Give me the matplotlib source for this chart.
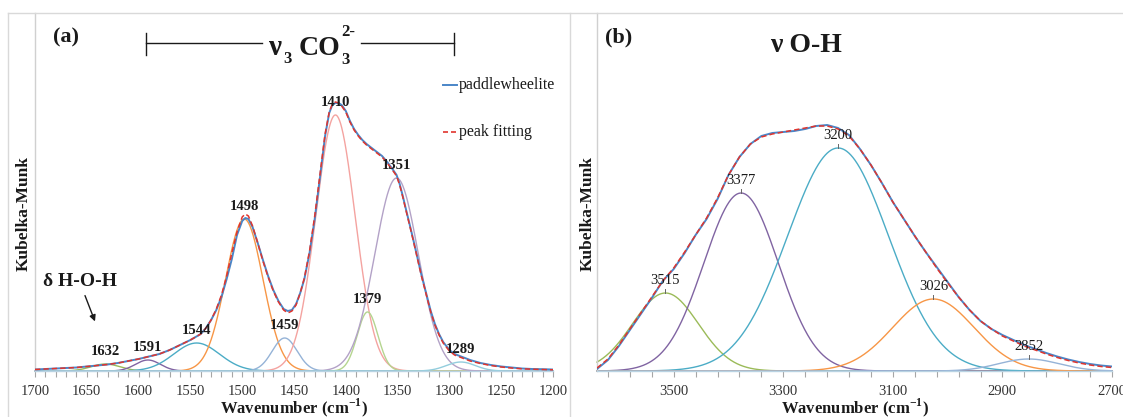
import numpy as np
import matplotlib.pyplot as plt
from matplotlib.lines import Line2D
from matplotlib.ticker import FixedLocator

plt.rcParams["font.family"] = ["Liberation Serif", "DejaVu Serif"]

# ---- (a) carbonate region: measured spectrum + fitted envelope -------------
wn_a = [1700, 1690, 1680, 1670, 1660, 1650, 1640, 1630, 1620, 1610,
        1600, 1590, 1580, 1570, 1560, 1550, 1540, 1535, 1530, 1525,
        1520, 1515, 1510, 1505, 1500, 1497, 1494, 1490, 1485, 1480,
        1475, 1470, 1465, 1460, 1456, 1452, 1448, 1444, 1440, 1435,
        1430, 1425, 1420, 1416, 1413, 1410, 1407, 1404, 1400, 1396,
        1392, 1388, 1384, 1380, 1375, 1370, 1365, 1360, 1355, 1351,
        1348, 1345, 1342, 1338, 1335, 1331, 1327, 1322, 1318, 1314,
        1310, 1306, 1300, 1295, 1290, 1285, 1280, 1270, 1260, 1250,
        1240, 1230, 1220, 1210, 1200]
km_a = [1.5, 2, 2.5, 3, 3.5, 4.5, 5.5, 6.5, 8, 10,
        12, 14.5, 17, 21, 26, 31, 37, 43, 51, 61,
        74, 92, 112, 136, 150, 153, 152, 144, 128, 111,
        95, 81, 70, 62, 60, 61, 67, 78, 92, 118,
        152, 193, 235, 258, 266, 268, 268, 266, 260, 250,
        242, 236, 231, 227, 223, 219, 215, 209, 202, 196,
        187, 175, 162, 145, 132, 114, 96, 76, 60, 47,
        37, 29, 21, 17, 15, 13, 11, 8, 6, 4.5,
        3.5, 2.5, 2, 1.8, 1.5]
fit_a = [1.5, 2, 2.5, 3, 3.5, 4.5, 5.5, 6.5, 8, 10,
         12, 14.5, 17, 21, 26, 31, 37, 43, 51, 62,
         76, 95, 118, 139, 154, 157, 155, 145, 128, 110,
         94, 80, 69, 61, 58, 60, 66, 78, 93, 120,
         155, 196, 237, 259, 267, 269, 268, 265, 259, 249,
         241, 235, 230, 226, 222, 218, 214, 208, 201, 195,
         186, 174, 161, 144, 131, 113, 95, 75, 59, 46,
         36, 28, 20, 16, 14, 12, 10, 7.5, 5.5, 4,
         3, 2.2, 1.8, 1.5, 1.2]

# fitted bands (a): position, height, width
peak_a = [1632, 1591, 1544, 1498, 1459, 1410, 1379, 1351, 1289]
height_a = [7, 11, 28, 152, 33, 256, 59, 193, 9]
width_a = [14, 12, 22, 18, 12, 19, 10, 21, 14]
colors_a = ["#9bbb59", "#8064a2", "#4bacc6", "#f79646", "#95b3d7",
            "#f4a3a0", "#b5d590", "#b3a2c7", "#93cddd"]

# ---- (b) O-H stretching region ---------------------------------------------
wn_b = [3640, 3620, 3600, 3580, 3560, 3540, 3520, 3500, 3480, 3460,
        3440, 3420, 3400, 3380, 3360, 3340, 3320, 3300, 3280, 3260,
        3240, 3220, 3200, 3180, 3160, 3140, 3120, 3100, 3080, 3060,
        3040, 3020, 3000, 2980, 2960, 2940, 2920, 2900, 2880, 2860,
        2840, 2820, 2800, 2780, 2760, 2740, 2720, 2700]
km_b = [2, 11, 25, 41, 57, 73, 90, 102, 118, 136,
        152, 172, 196, 214, 227, 235, 238, 239, 240, 242,
        245, 246, 243, 236, 222, 206, 188, 169, 152, 135,
        119, 104, 89, 74, 61, 50, 42, 36, 31, 26,
        22, 18, 14.5, 11.5, 9, 7, 5.5, 4.5]
fit_b = [3, 12, 26, 42, 58, 74, 90, 103, 119, 136,
         153, 173, 196, 214, 227, 234, 237, 239, 241, 243,
         245, 245, 242, 235, 222, 206, 188, 169, 152, 135,
         119, 103, 88, 74, 61, 50, 42, 35, 30, 25,
         21, 17, 13.5, 10.5, 8, 6, 4.5, 3.5]

peak_b = [3515, 3377, 3200, 3026, 2852]
height_b = [78, 178, 223, 72, 12]
width_b = [60, 68, 92, 74, 55]
colors_b = ["#9bbb59", "#8064a2", "#4bacc6", "#f79646", "#95b3d7"]

C_MEAS = "#4a86c8"
C_FIT = "#e0352e"
INK = "#1a1a1a"
TICK = "#333333"

W, H = 1123, 417
fig = plt.figure(figsize=(W / 100, H / 100), dpi=100)


def fx(x):
    return x / W


def fy(y):
    return 1 - y / H


def px_axes(x0, x1, y0, y1):
    return fig.add_axes([fx(x0), fy(y1), (x1 - x0) / W, (y1 - y0) / H])


def gauss(x, c, h, s):
    return h * np.exp(-0.5 * ((x - c) / s) ** 2)


def style_axes(ax, lo, hi, majors, minor_step):
    ax.set_xlim(lo, hi)
    ax.set_ylim(0, 358)
    ax.set_yticks([])
    ax.xaxis.set_major_locator(FixedLocator(majors))
    ax.xaxis.set_minor_locator(FixedLocator(np.arange(min(lo, hi), max(lo, hi) + 1, minor_step)))
    ax.tick_params(axis="x", which="both", direction="out", length=4, width=0.8,
                   color="#a6a6a6", labelsize=10.5, labelcolor=TICK, pad=6)
    for s in ("top", "right"):
        ax.spines[s].set_visible(False)
    ax.spines["left"].set_color("#d0d0d0")
    ax.spines["bottom"].set_color("#b9d3e3")
    ax.spines["left"].set_linewidth(1.0)
    ax.spines["bottom"].set_linewidth(1.0)
    ax.set_xlabel("Wavenumber (cm$^{\\mathregular{-1}}$)", fontsize=12,
                  weight="bold", color=INK, labelpad=-1)
    ax.set_ylabel("Kubelka-Munk", fontsize=12.5, weight="bold", color=INK)


# thin panel frames
for seg in [([8, 8], [13, 417]), ([570, 570], [13, 417]), ([8, 1123], [13, 13])]:
    fig.add_artist(Line2D([fx(v) for v in seg[0]], [fy(v) for v in seg[1]],
                          color="#d9d9d9", lw=1.0))

# ---- panel (a) --------------------------------------------------------------
ax_a = px_axes(35, 553, 13, 371)
style_axes(ax_a, 1700, 1200, list(range(1700, 1199, -50)), 10)
ax_a.yaxis.set_label_coords(-0.006, 0.44)
grid_a = np.linspace(1700, 1200, 1001)
for c, h, s, col in zip(peak_a, height_a, width_a, colors_a):
    ax_a.plot(grid_a, gauss(grid_a, c, h, s), color=col, lw=1.0, clip_on=False, zorder=2)
    ax_a.annotate(str(c), (c, h), xytext=(0, 9), textcoords="offset points",
                  ha="center", va="center", fontsize=10.5, weight="bold", color=INK,
                  zorder=5)
ax_a.plot(wn_a, km_a, color=C_MEAS, lw=1.4, zorder=3)
ax_a.plot(wn_a, fit_a, color=C_FIT, lw=1.1, ls=(0, (3.5, 2)), zorder=4)

# ---- panel (b) --------------------------------------------------------------
ax_b = px_axes(597, 1112, 13, 371)
style_axes(ax_b, 3640, 2700, [3500, 3300, 3100, 2900, 2700], 40)
ax_b.yaxis.set_label_coords(-0.002, 0.44)
grid_b = np.linspace(3640, 2700, 1001)
for c, h, s, col in zip(peak_b, height_b, width_b, colors_b):
    ax_b.plot(grid_b, gauss(grid_b, c, h, s), color=col, lw=1.0, clip_on=False, zorder=2)
    ax_b.plot([c, c], [h, h + 4], color="#666666", lw=0.7, zorder=5)
    ax_b.annotate(str(c), (c, h), xytext=(0, 9), textcoords="offset points",
                  ha="center", va="center", fontsize=10.5, color=INK, zorder=5)
ax_b.plot(wn_b, km_b, color=C_MEAS, lw=1.4, zorder=3)
ax_b.plot(wn_b, fit_b, color=C_FIT, lw=1.1, ls=(0, (3.5, 2)), zorder=4)

# ---- headings and annotations -----------------------------------------------
fig.text(fx(66), fy(37), "(a)", ha="center", va="center", fontsize=16, weight="bold", color=INK)
fig.text(fx(619), fy(37), "(b)", ha="center", va="center", fontsize=16, weight="bold", color=INK)

# v3 CO3 2- with its range bar
fig.add_artist(Line2D([fx(146), fx(262)], [fy(43), fy(43)], color=INK, lw=1.0))
fig.add_artist(Line2D([fx(361), fx(454)], [fy(43), fy(43)], color=INK, lw=1.0))
for xb in (146, 454):
    fig.add_artist(Line2D([fx(xb), fx(xb)], [fy(33), fy(55)], color=INK, lw=1.0))
fig.text(fx(268), fy(55), "ν", ha="left", va="baseline", fontsize=21, weight="bold", color=INK)
fig.text(fx(283), fy(63), "3", ha="left", va="baseline", fontsize=12, weight="bold", color=INK)
fig.text(fx(299), fy(55), "CO", ha="left", va="baseline", fontsize=20, weight="bold", color=INK)
fig.text(fx(341), fy(64), "3", ha="left", va="baseline", fontsize=12, weight="bold", color=INK)
fig.text(fx(341), fy(36), "2-", ha="left", va="baseline", fontsize=12, weight="bold", color=INK)

fig.text(fx(806), fy(45), "ν O-H", ha="center", va="center", fontsize=20, weight="bold", color=INK)

# legend (a)
fig.add_artist(Line2D([fx(443), fx(457)], [fy(85), fy(85)], color=C_MEAS, lw=1.4))
fig.text(fx(459), fy(85), "paddlewheelite", ha="left", va="center", fontsize=11.5, color=INK)
fig.add_artist(Line2D([fx(443), fx(457)], [fy(132), fy(132)], color=C_FIT, lw=1.2,
                      ls=(0, (3, 1.8))))
fig.text(fx(459), fy(132), "peak fitting", ha="left", va="center", fontsize=11.5, color=INK)

# bending mode of water
fig.text(fx(80), fy(281), "δ H-O-H", ha="center", va="center", fontsize=14, weight="bold", color=INK)
ax_a.annotate("", xy=(fx(96), fy(324)), xytext=(fx(84), fy(293)),
              xycoords="figure fraction", textcoords="figure fraction",
              arrowprops=dict(arrowstyle="-|>", color=INK, lw=1.0, mutation_scale=9))

fig.savefig("out.png", dpi=100, facecolor="white")
